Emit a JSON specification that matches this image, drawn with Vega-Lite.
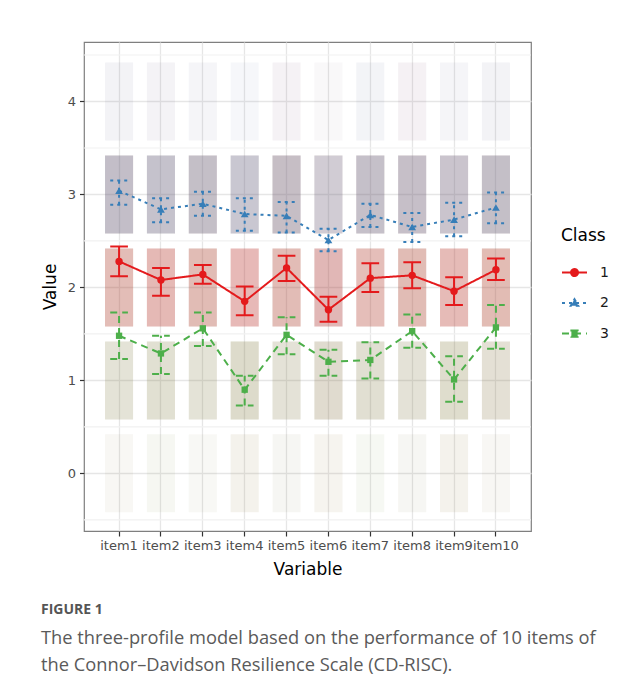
{
  "$schema": "https://vega.github.io/schema/vega-lite/v6.json",
  "autosize": "none",
  "width": 447,
  "height": 489,
  "padding": {"left": 84, "top": 42, "right": 112, "bottom": 162},
  "background": "white",
  "title": {
    "text": "FIGURE 1",
    "subtitle": ["The three-profile model based on the performance of 10 items of", "the Connor–Davidson Resilience Scale (CD-RISC)."],
    "orient": "bottom", "anchor": "start", "frame": "group", "dx": -43, "offset": 26,
    "font": "Open Sans", "fontSize": 14, "fontWeight": "bold", "color": "#555555",
    "subtitleFont": "Open Sans", "subtitleFontSize": 18.3, "subtitleColor": "#5a5a5a",
    "subtitleLineHeight": 27, "subtitlePadding": 13
  },
  "datasets": {
    "minor": [{"g": -0.5}, {"g": 0.5}, {"g": 1.5}, {"g": 2.5}, {"g": 3.5}, {"g": 4.5}],
    "means": [
      {"item":"item1","class":"1","mean":2.28,"lo":2.12,"hi":2.44},
      {"item":"item2","class":"1","mean":2.08,"lo":1.91,"hi":2.21},
      {"item":"item3","class":"1","mean":2.14,"lo":2.04,"hi":2.24},
      {"item":"item4","class":"1","mean":1.85,"lo":1.70,"hi":2.01},
      {"item":"item5","class":"1","mean":2.21,"lo":2.07,"hi":2.34},
      {"item":"item6","class":"1","mean":1.76,"lo":1.63,"hi":1.90},
      {"item":"item7","class":"1","mean":2.10,"lo":1.95,"hi":2.26},
      {"item":"item8","class":"1","mean":2.13,"lo":1.99,"hi":2.27},
      {"item":"item9","class":"1","mean":1.96,"lo":1.81,"hi":2.11},
      {"item":"item10","class":"1","mean":2.19,"lo":2.08,"hi":2.31},
      {"item":"item1","class":"2","mean":3.04,"lo":2.89,"hi":3.15},
      {"item":"item2","class":"2","mean":2.84,"lo":2.70,"hi":2.96},
      {"item":"item3","class":"2","mean":2.90,"lo":2.77,"hi":3.03},
      {"item":"item4","class":"2","mean":2.79,"lo":2.61,"hi":2.96},
      {"item":"item5","class":"2","mean":2.77,"lo":2.59,"hi":2.92},
      {"item":"item6","class":"2","mean":2.51,"lo":2.39,"hi":2.63},
      {"item":"item7","class":"2","mean":2.78,"lo":2.65,"hi":2.90},
      {"item":"item8","class":"2","mean":2.65,"lo":2.49,"hi":2.80},
      {"item":"item9","class":"2","mean":2.73,"lo":2.55,"hi":2.91},
      {"item":"item10","class":"2","mean":2.86,"lo":2.69,"hi":3.02},
      {"item":"item1","class":"3","mean":1.48,"lo":1.23,"hi":1.73},
      {"item":"item2","class":"3","mean":1.29,"lo":1.07,"hi":1.48},
      {"item":"item3","class":"3","mean":1.56,"lo":1.37,"hi":1.73},
      {"item":"item4","class":"3","mean":0.90,"lo":0.73,"hi":1.05},
      {"item":"item5","class":"3","mean":1.49,"lo":1.28,"hi":1.68},
      {"item":"item6","class":"3","mean":1.20,"lo":1.05,"hi":1.33},
      {"item":"item7","class":"3","mean":1.22,"lo":1.02,"hi":1.41},
      {"item":"item8","class":"3","mean":1.53,"lo":1.35,"hi":1.71},
      {"item":"item9","class":"3","mean":1.01,"lo":0.77,"hi":1.26},
      {"item":"item10","class":"3","mean":1.57,"lo":1.34,"hi":1.81}
    ],
    "clouds": [
      {"item":"item1","level":4,"class":"1","n":4},{"item":"item1","level":4,"class":"2","n":9},
      {"item":"item1","level":3,"class":"3","n":12},{"item":"item1","level":3,"class":"1","n":28},{"item":"item1","level":3,"class":"2","n":40},
      {"item":"item1","level":2,"class":"3","n":18},{"item":"item1","level":2,"class":"1","n":42},{"item":"item1","level":2,"class":"2","n":5},
      {"item":"item1","level":1,"class":"3","n":22},{"item":"item1","level":1,"class":"1","n":12},{"item":"item1","level":1,"class":"2","n":1},
      {"item":"item1","level":0,"class":"3","n":5},{"item":"item1","level":0,"class":"1","n":4},

      {"item":"item2","level":4,"class":"3","n":1},{"item":"item2","level":4,"class":"1","n":4},{"item":"item2","level":4,"class":"2","n":7},
      {"item":"item2","level":3,"class":"3","n":10},{"item":"item2","level":3,"class":"1","n":25},{"item":"item2","level":3,"class":"2","n":40},
      {"item":"item2","level":2,"class":"3","n":16},{"item":"item2","level":2,"class":"1","n":45},{"item":"item2","level":2,"class":"2","n":5},
      {"item":"item2","level":1,"class":"3","n":26},{"item":"item2","level":1,"class":"1","n":13},{"item":"item2","level":1,"class":"2","n":1},
      {"item":"item2","level":0,"class":"3","n":7},{"item":"item2","level":0,"class":"1","n":4},

      {"item":"item3","level":4,"class":"1","n":3},{"item":"item3","level":4,"class":"2","n":8},
      {"item":"item3","level":3,"class":"3","n":14},{"item":"item3","level":3,"class":"1","n":28},{"item":"item3","level":3,"class":"2","n":38},
      {"item":"item3","level":2,"class":"3","n":20},{"item":"item3","level":2,"class":"1","n":42},{"item":"item3","level":2,"class":"2","n":5},
      {"item":"item3","level":1,"class":"3","n":22},{"item":"item3","level":1,"class":"1","n":12},{"item":"item3","level":1,"class":"2","n":1},
      {"item":"item3","level":0,"class":"3","n":6},{"item":"item3","level":0,"class":"1","n":3},

      {"item":"item4","level":4,"class":"1","n":1},{"item":"item4","level":4,"class":"2","n":8},
      {"item":"item4","level":3,"class":"3","n":8},{"item":"item4","level":3,"class":"1","n":22},{"item":"item4","level":3,"class":"2","n":38},
      {"item":"item4","level":2,"class":"3","n":12},{"item":"item4","level":2,"class":"1","n":45},{"item":"item4","level":2,"class":"2","n":6},
      {"item":"item4","level":1,"class":"3","n":30},{"item":"item4","level":1,"class":"1","n":16},{"item":"item4","level":1,"class":"2","n":1},
      {"item":"item4","level":0,"class":"3","n":10},{"item":"item4","level":0,"class":"1","n":6},

      {"item":"item5","level":4,"class":"1","n":5},{"item":"item5","level":4,"class":"2","n":7},
      {"item":"item5","level":3,"class":"3","n":14},{"item":"item5","level":3,"class":"1","n":30},{"item":"item5","level":3,"class":"2","n":36},
      {"item":"item5","level":2,"class":"3","n":18},{"item":"item5","level":2,"class":"1","n":42},{"item":"item5","level":2,"class":"2","n":6},
      {"item":"item5","level":1,"class":"3","n":22},{"item":"item5","level":1,"class":"1","n":12},{"item":"item5","level":1,"class":"2","n":2},
      {"item":"item5","level":0,"class":"3","n":5},{"item":"item5","level":0,"class":"1","n":4},{"item":"item5","level":0,"class":"2","n":1},

      {"item":"item6","level":4,"class":"1","n":3},{"item":"item6","level":4,"class":"2","n":4},
      {"item":"item6","level":3,"class":"3","n":8},{"item":"item6","level":3,"class":"1","n":20},{"item":"item6","level":3,"class":"2","n":32},
      {"item":"item6","level":2,"class":"3","n":15},{"item":"item6","level":2,"class":"1","n":45},{"item":"item6","level":2,"class":"2","n":10},
      {"item":"item6","level":1,"class":"3","n":26},{"item":"item6","level":1,"class":"1","n":16},{"item":"item6","level":1,"class":"2","n":2},
      {"item":"item6","level":0,"class":"3","n":7},{"item":"item6","level":0,"class":"1","n":6},

      {"item":"item7","level":4,"class":"1","n":3},{"item":"item7","level":4,"class":"2","n":9},
      {"item":"item7","level":3,"class":"3","n":12},{"item":"item7","level":3,"class":"1","n":28},{"item":"item7","level":3,"class":"2","n":38},
      {"item":"item7","level":2,"class":"3","n":16},{"item":"item7","level":2,"class":"1","n":42},{"item":"item7","level":2,"class":"2","n":5},
      {"item":"item7","level":1,"class":"3","n":26},{"item":"item7","level":1,"class":"1","n":13},{"item":"item7","level":1,"class":"2","n":2},
      {"item":"item7","level":0,"class":"3","n":7},{"item":"item7","level":0,"class":"1","n":3},

      {"item":"item8","level":4,"class":"1","n":6},{"item":"item8","level":4,"class":"2","n":8},
      {"item":"item8","level":3,"class":"3","n":14},{"item":"item8","level":3,"class":"1","n":28},{"item":"item8","level":3,"class":"2","n":36},
      {"item":"item8","level":2,"class":"3","n":20},{"item":"item8","level":2,"class":"1","n":42},{"item":"item8","level":2,"class":"2","n":5},
      {"item":"item8","level":1,"class":"3","n":22},{"item":"item8","level":1,"class":"1","n":12},{"item":"item8","level":1,"class":"2","n":2},
      {"item":"item8","level":0,"class":"3","n":6},{"item":"item8","level":0,"class":"1","n":4},{"item":"item8","level":0,"class":"2","n":1},

      {"item":"item9","level":4,"class":"1","n":3},{"item":"item9","level":4,"class":"2","n":8},
      {"item":"item9","level":3,"class":"3","n":10},{"item":"item9","level":3,"class":"1","n":25},{"item":"item9","level":3,"class":"2","n":36},
      {"item":"item9","level":2,"class":"3","n":14},{"item":"item9","level":2,"class":"1","n":44},{"item":"item9","level":2,"class":"2","n":6},
      {"item":"item9","level":1,"class":"3","n":28},{"item":"item9","level":1,"class":"1","n":15},{"item":"item9","level":1,"class":"2","n":1},
      {"item":"item9","level":0,"class":"3","n":10},{"item":"item9","level":0,"class":"1","n":6},

      {"item":"item10","level":4,"class":"1","n":4},{"item":"item10","level":4,"class":"2","n":9},
      {"item":"item10","level":3,"class":"3","n":14},{"item":"item10","level":3,"class":"1","n":28},{"item":"item10","level":3,"class":"2","n":38},
      {"item":"item10","level":2,"class":"3","n":20},{"item":"item10","level":2,"class":"1","n":42},{"item":"item10","level":2,"class":"2","n":4},
      {"item":"item10","level":1,"class":"3","n":22},{"item":"item10","level":1,"class":"1","n":13},{"item":"item10","level":1,"class":"2","n":2},
      {"item":"item10","level":0,"class":"3","n":5},{"item":"item10","level":0,"class":"1","n":4}
    ]
  },
  "encoding": {
    "x": {
      "field": "item", "type": "nominal", "title": "Variable",
      "scale": {"domain": ["item1","item2","item3","item4","item5","item6","item7","item8","item9","item10"], "padding": 0.675},
      "axis": {
        "grid": true, "gridColor": "#E6E6E6", "gridWidth": 1.3, "domain": false,
        "tickColor": "#333333", "tickSize": 5, "tickWidth": 1.2,
        "labelFont": "DejaVu Sans", "labelFontSize": 13, "labelColor": "#4D4D4D", "labelAngle": 0, "labelPadding": 3,
        "titleFont": "DejaVu Sans", "titleFontSize": 17, "titleFontWeight": "normal", "titleColor": "#000000", "titlePadding": 9
      }
    }
  },
  "layer": [
    {
      "data": {"name": "minor"},
      "mark": {"type": "rule", "color": "#F1F1F1", "strokeWidth": 1.2},
      "encoding": {
        "x": null,
        "y": {
          "field": "g", "type": "quantitative", "title": "Value",
          "scale": {"domain": [-0.62, 4.64], "nice": false, "zero": false},
          "axis": {
            "values": [0, 1, 2, 3, 4], "format": "d",
            "grid": true, "gridColor": "#E6E6E6", "gridWidth": 1.3,
            "domain": false, "tickColor": "#333333", "tickSize": 4.5, "tickWidth": 1.2,
            "labelFont": "DejaVu Sans", "labelFontSize": 13, "labelColor": "#4D4D4D", "labelPadding": 4,
            "titleFont": "DejaVu Sans", "titleFontSize": 17, "titleFontWeight": "normal", "titleColor": "#000000", "titlePadding": 8
          }
        }
      }
    },
    {
      "data": {"name": "clouds"},
      "mark": {"type": "point", "shape": "M-0.36,-1H0.36V1H-0.36Z", "size": 6084, "filled": true, "strokeWidth": 0},
      "encoding": {
        "y": {"field": "level", "type": "quantitative", "title": "Value", "scale": {"domain": [-0.62, 4.64], "nice": false, "zero": false}},
        "color": {"field": "class", "type": "nominal", "title": "Class", "scale": {"domain": ["1","2","3"], "range": ["#E41A1C","#377EB8","#4DAF4A"]}},
        "opacity": {"field": "n", "type": "quantitative", "scale": {"domain": [0, 60], "range": [0, 0.36]}, "legend": null}
      }
    },
    {
      "data": {"name": "means"},
      "mark": {"type": "rule", "strokeWidth": 2},
      "encoding": {
        "y": {"field": "lo", "type": "quantitative", "title": "Value", "scale": {"domain": [-0.62, 4.64], "nice": false, "zero": false}},
        "y2": {"field": "hi"},
        "color": {"field": "class", "type": "nominal", "title": "Class"},
        "strokeDash": {"field": "class", "type": "nominal", "title": "Class", "scale": {"domain": ["1","2","3"], "range": [[1,0],[3,4],[7,5]]}}
      }
    },
    {
      "data": {"name": "means"},
      "mark": {"type": "point", "shape": "M-1,0H1", "size": 313, "filled": false, "strokeWidth": 2, "opacity": 1},
      "encoding": {
        "y": {"field": "lo", "type": "quantitative", "title": "Value", "scale": {"domain": [-0.62, 4.64], "nice": false, "zero": false}},
        "color": {"field": "class", "type": "nominal", "title": "Class"},
        "strokeDash": {"field": "class", "type": "nominal", "title": "Class"}
      }
    },
    {
      "data": {"name": "means"},
      "mark": {"type": "point", "shape": "M-1,0H1", "size": 313, "filled": false, "strokeWidth": 2, "opacity": 1},
      "encoding": {
        "y": {"field": "hi", "type": "quantitative", "title": "Value", "scale": {"domain": [-0.62, 4.64], "nice": false, "zero": false}},
        "color": {"field": "class", "type": "nominal", "title": "Class"},
        "strokeDash": {"field": "class", "type": "nominal", "title": "Class"}
      }
    },
    {
      "data": {"name": "means"},
      "mark": {"type": "line", "strokeWidth": 2},
      "encoding": {
        "y": {"field": "mean", "type": "quantitative", "title": "Value", "scale": {"domain": [-0.62, 4.64], "nice": false, "zero": false}},
        "order": {"value": null},
        "color": {
          "field": "class", "type": "nominal", "title": "Class",
          "legend": {
            "orient": "none", "legendX": 477, "legendY": 186,
            "titleFont": "DejaVu Sans", "titleFontSize": 17, "titleFontWeight": "normal", "titleColor": "#000000", "titlePadding": 14,
            "labelFont": "DejaVu Sans", "labelFontSize": 14, "labelColor": "#1a1a1a", "labelOffset": 12,
            "symbolSize": 625, "symbolStrokeWidth": 2, "symbolType": "M-1,0H1", "rowPadding": 9.5, "padding": 0,
            "encode": {
              "symbols": {
                "update": {
                  "shape": {"signal": "datum.value === '1' ? 'M-1,0H1M-0.28,0A0.28,0.28 0 1,0 0.28,0A0.28,0.28 0 1,0 -0.28,0Z' : datum.value === '2' ? 'M-1,0H1M0,-0.3L0.3,0.22L-0.3,0.22Z' : 'M-1,0H1M-0.25,-0.25H0.25V0.25H-0.25Z'"},
                  "fill": {"scale": "color", "field": "value"},
                  "fillOpacity": {"value": 1},
                  "opacity": {"value": 1}
                }
              }
            }
          }
        },
        "strokeDash": {"field": "class", "type": "nominal", "title": "Class"}
      }
    },
    {
      "data": {"name": "means"},
      "transform": [{"filter": "datum.class === '1'"}],
      "mark": {"type": "point", "shape": "circle", "filled": true, "opacity": 1, "size": 55},
      "encoding": {
        "y": {"field": "mean", "type": "quantitative", "title": "Value", "scale": {"domain": [-0.62, 4.64], "nice": false, "zero": false}},
        "color": {"field": "class", "type": "nominal", "title": "Class"}
      }
    },
    {
      "data": {"name": "means"},
      "transform": [{"filter": "datum.class === '2'"}],
      "mark": {"type": "point", "shape": "triangle-up", "filled": true, "opacity": 1, "size": 60},
      "encoding": {
        "y": {"field": "mean", "type": "quantitative", "title": "Value", "scale": {"domain": [-0.62, 4.64], "nice": false, "zero": false}},
        "color": {"field": "class", "type": "nominal", "title": "Class"}
      }
    },
    {
      "data": {"name": "means"},
      "transform": [{"filter": "datum.class === '3'"}],
      "mark": {"type": "point", "shape": "square", "filled": true, "opacity": 1, "size": 40},
      "encoding": {
        "y": {"field": "mean", "type": "quantitative", "title": "Value", "scale": {"domain": [-0.62, 4.64], "nice": false, "zero": false}},
        "color": {"field": "class", "type": "nominal", "title": "Class"}
      }
    }
  ],
  "config": {
    "font": "DejaVu Sans",
    "view": {"stroke": "#7F7F7F", "strokeWidth": 1.2}
  }
}
